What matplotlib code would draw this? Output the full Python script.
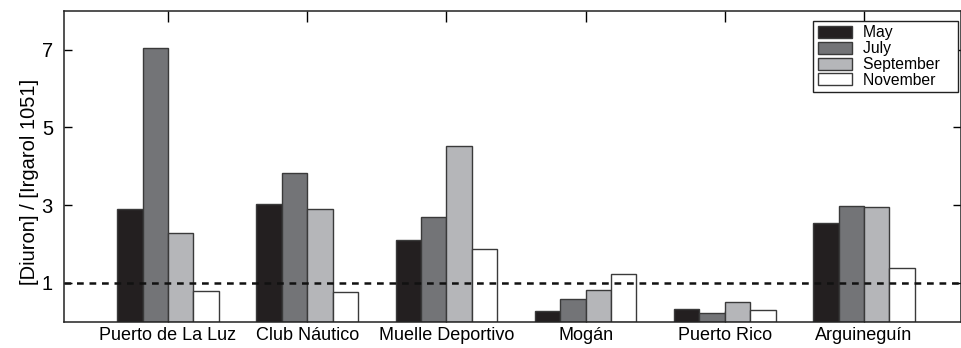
import numpy as np
import matplotlib.pyplot as plt

plt.rcParams['font.family'] = ['Liberation Sans', 'DejaVu Sans']

sites = ["Puerto de La Luz", "Club Náutico", "Muelle Deportivo",
         "Mogán", "Puerto Rico", "Arguineguín"]
months = ["May", "July", "September", "November"]

may = [2.89, 3.04, 2.11, 0.28, 0.32, 2.55]
july = [7.05, 3.82, 2.69, 0.59, 0.22, 2.98]
september = [2.27, 2.89, 4.51, 0.81, 0.50, 2.96]
november = [0.79, 0.76, 1.88, 1.22, 0.29, 1.39]

colors = ["#231f20", "#737477", "#b5b6b9", "#ffffff"]

fig = plt.figure(figsize=(9.62, 3.48), dpi=100)
ax = fig.add_axes([64/962, 1-321.6/348, (961-64)/962, (321.6-11)/348])

x = np.arange(1, len(sites) + 1)
w = 0.1825
for i, (vals, c, lab) in enumerate(zip([may, july, september, november], colors, months)):
    ax.bar(x + (i - 1.5) * w, vals, width=w, color=c, edgecolor="#3a3a3a",
           linewidth=1.0, label=lab + "   ", zorder=2)

# ratio = 1 reference line
ax.axhline(1, color="#111111", linewidth=1.8, linestyle=(0, (2.7, 2.3)), zorder=3)

ax.set_xlim(0.253, 6.697)
ax.set_ylim(0, 8)
ax.set_yticks([1, 3, 5, 7])
ax.set_xticks(x)
ax.set_xticklabels(sites, fontsize=13)
ax.tick_params(axis='y', labelsize=14.5, direction='in', length=6, width=1,
               right=True, pad=8)
ax.tick_params(axis='x', direction='in', length=8, width=1, top=True, pad=4)
ax.set_ylabel("[Diuron] / [Irgarol 1051]", fontsize=14.5)
ax.yaxis.set_label_coords(-0.028, 0.449)
for s in ax.spines.values():
    s.set_linewidth(1.1)
    s.set_color("#222222")

leg = ax.legend(loc="upper right", bbox_to_anchor=(0.9963, 0.9688),
                borderaxespad=0, fontsize=11.3, frameon=True, fancybox=False,
                edgecolor="#222222", handlelength=2.17, handleheight=0.8,
                handletextpad=0.7, labelspacing=0.05, borderpad=0.3)
leg.get_frame().set_linewidth(1.0)
leg.get_frame().set_alpha(1)

fig.savefig("out.png", dpi=100)
